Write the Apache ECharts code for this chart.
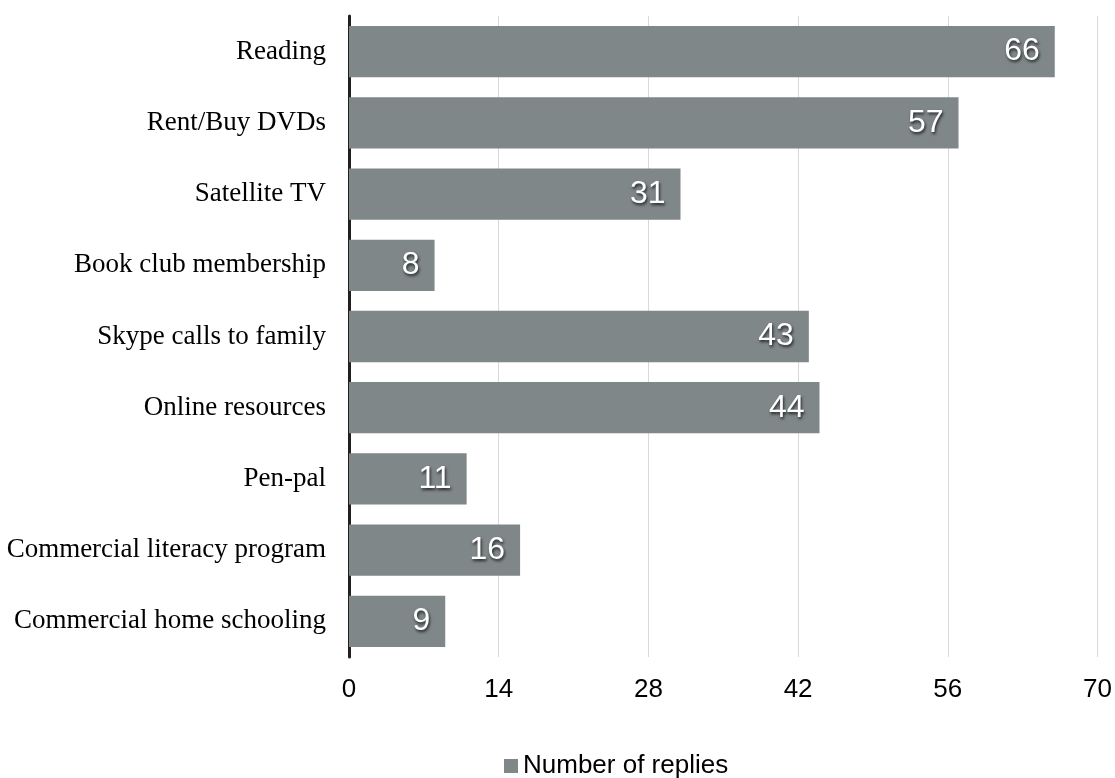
<!DOCTYPE html>
<html><head><meta charset="utf-8">
<script src="https://cdn.jsdelivr.net/npm/echarts@6/dist/echarts.min.js"></script>
<style>html,body{margin:0;padding:0;background:#fff}#c{width:1115px;height:778px}</style>
</head><body><div id="c"></div>
<script>
const categories = ["Reading","Rent/Buy DVDs","Satellite TV","Book club membership","Skype calls to family","Online resources","Pen-pal","Commercial literacy program","Commercial home schooling"];
const values = [66,57,31,8,43,44,11,16,9];
const seriesName = "Number of replies";
const xTicks = [0,14,28,42,56,70];

const chart = echarts.init(document.getElementById('c'));
chart.setOption({
  animation:false,
  grid:{left:349,right:16,top:16,bottom:121,containLabel:false},
  legend:{top:748,left:499,itemWidth:14,itemHeight:14,itemGap:5,icon:'rect',
    textStyle:{fontFamily:'Liberation Sans',fontSize:26,color:'#000'},data:[seriesName]},
  xAxis:{type:'value',min:xTicks[0],max:xTicks[xTicks.length-1],interval:14,
    axisLine:{show:false},axisTick:{show:false},
    axisLabel:{fontFamily:'Liberation Sans',fontSize:26,color:'#000',margin:20},
    splitLine:{lineStyle:{color:'#d9d9d9',width:1}}},
  yAxis:{type:'category',inverse:true,data:categories,
    axisLine:{lineStyle:{color:'#231f20',width:3}},axisTick:{show:false},
    axisLabel:{fontFamily:'Liberation Serif',fontSize:27,color:'#000',margin:23}},
  series:[{name:seriesName,type:'bar',data:values,barCategoryGap:'28%',
    itemStyle:{color:'#7f8789'},
    label:{show:true,position:'insideRight',distance:15,color:'#fff',fontFamily:'Liberation Sans',fontSize:32,
      textShadowColor:'rgba(0,0,0,0.75)',textShadowBlur:3,textShadowOffsetX:1,textShadowOffsetY:2}}]
});
</script></body></html>
